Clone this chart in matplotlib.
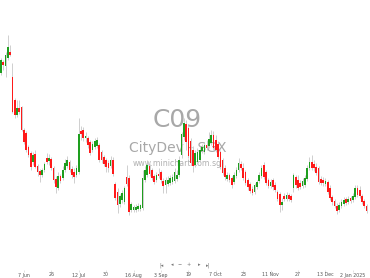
import matplotlib
matplotlib.use("Agg")
import matplotlib.pyplot as plt
import numpy as np
import pandas as pd

# ---- data ----
holidays = ["2024-06-17", "2024-08-09", "2024-10-31", "2024-12-25", "2025-01-01"]
start_date = "2024-05-24"
end_date = "2025-01-10"

opens = [5.92, 6.03, 5.99, 6.07, 6.13, 5.88, 5.65, 5.50, 5.57, 5.58,
         5.35, 5.32, 5.18, 5.12, 5.03, 5.11, 4.99, 4.94, 4.90, 4.95,
         5.07, 5.04, 5.06, 4.97, 4.86, 4.77, 4.89, 4.87, 4.95, 4.99,
         5.03, 4.96, 4.93, 4.90, 4.93, 5.34, 5.35, 5.27, 5.27, 5.23,
         5.15, 5.18, 5.19, 5.20, 5.13, 5.08, 5.05, 5.02, 4.99, 5.05,
         4.81, 4.73, 4.61, 4.65, 4.63, 4.88, 4.87, 4.55, 4.55, 4.55,
         4.56, 4.56, 4.57, 4.85, 4.90, 4.99, 4.95, 4.89, 4.85, 4.91,
         4.93, 4.84, 4.80, 4.81, 4.82, 4.83, 4.84, 4.86, 4.90, 5.10,
         5.28, 5.41, 5.37, 5.24, 5.15, 5.00, 5.03, 5.05, 5.14, 5.13,
         5.20, 5.19, 5.22, 5.30, 5.25, 5.21, 5.13, 5.05, 4.97, 4.86,
         4.90, 4.87, 4.83, 4.89, 4.95, 5.01, 4.97, 4.93, 4.85, 4.81,
         4.76, 4.73, 4.78, 4.84, 4.89, 5.00, 4.93, 4.85, 4.79, 4.85,
         4.80, 4.73, 4.71, 4.60, 4.69, 4.66, 4.70, 4.69, 4.77, 4.88,
         4.85, 4.82, 4.79, 4.80, 4.86, 4.97, 5.03, 5.01, 4.98, 4.97,
         4.86, 4.85, 4.81, 4.83, 4.77, 4.68, 4.64, 4.59, 4.55, 4.59,
         4.61, 4.66, 4.63, 4.67, 4.65, 4.68, 4.77, 4.75, 4.69, 4.64,
         4.59]
highs = [6.07, 6.05, 6.13, 6.30, 6.20, 6.02, 5.67, 5.65, 5.65, 5.59,
         5.37, 5.34, 5.20, 5.14, 5.13, 5.15, 5.01, 4.96, 4.97, 5.03,
         5.12, 5.11, 5.08, 4.99, 4.89, 4.93, 4.91, 4.99, 5.06, 5.09,
         5.05, 4.99, 4.97, 5.00, 5.47, 5.39, 5.38, 5.33, 5.29, 5.25,
         5.24, 5.27, 5.28, 5.22, 5.15, 5.10, 5.07, 5.05, 5.09, 5.08,
         4.83, 4.77, 4.71, 4.75, 4.79, 5.00, 4.90, 4.63, 4.60, 4.61,
         4.62, 4.61, 4.95, 4.99, 5.05, 5.01, 4.97, 4.91, 4.93, 4.97,
         4.95, 4.87, 4.88, 4.89, 4.90, 4.91, 4.97, 4.95, 5.09, 5.33,
         5.47, 5.45, 5.40, 5.27, 5.19, 5.15, 5.17, 5.19, 5.21, 5.23,
         5.25, 5.33, 5.35, 5.34, 5.30, 5.24, 5.15, 5.07, 5.00, 4.93,
         4.92, 4.89, 4.93, 4.98, 5.07, 5.04, 5.02, 4.95, 4.87, 4.83,
         4.79, 4.82, 4.85, 4.93, 5.00, 5.03, 4.95, 4.87, 4.86, 4.87,
         4.83, 4.75, 4.73, 4.67, 4.72, 4.73, 4.72, 4.71, 4.92, 4.90,
         4.90, 4.85, 4.87, 4.90, 5.00, 5.08, 5.10, 5.05, 5.02, 4.99,
         4.89, 4.88, 4.87, 4.85, 4.80, 4.70, 4.66, 4.62, 4.63, 4.66,
         4.68, 4.68, 4.69, 4.69, 4.72, 4.80, 4.80, 4.79, 4.71, 4.66,
         4.61]
lows = [5.90, 5.95, 5.88, 6.05, 6.09, 5.52, 5.47, 5.48, 5.51, 5.34,
        5.21, 5.13, 5.08, 4.95, 5.00, 4.97, 4.89, 4.83, 4.88, 4.93,
        5.01, 5.00, 4.95, 4.82, 4.72, 4.75, 4.82, 4.85, 4.93, 4.97,
        4.93, 4.87, 4.82, 4.88, 4.91, 5.25, 5.24, 5.23, 5.17, 5.10,
        5.13, 5.16, 5.17, 5.03, 5.02, 4.99, 4.93, 4.93, 4.97, 4.89,
        4.65, 4.52, 4.58, 4.62, 4.61, 4.79, 4.50, 4.53, 4.53, 4.53,
        4.54, 4.54, 4.55, 4.83, 4.88, 4.89, 4.85, 4.81, 4.83, 4.87,
        4.82, 4.72, 4.72, 4.79, 4.80, 4.81, 4.82, 4.84, 4.88, 5.07,
        5.25, 5.15, 5.07, 5.00, 4.93, 4.98, 5.01, 5.03, 5.12, 5.11,
        5.15, 5.17, 5.20, 5.15, 5.13, 5.06, 4.96, 4.90, 4.85, 4.84,
        4.83, 4.77, 4.81, 4.87, 4.93, 4.95, 4.85, 4.80, 4.75, 4.72,
        4.70, 4.71, 4.76, 4.82, 4.87, 4.86, 4.80, 4.77, 4.77, 4.75,
        4.73, 4.64, 4.53, 4.55, 4.64, 4.64, 4.64, 4.63, 4.73, 4.77,
        4.75, 4.76, 4.77, 4.78, 4.84, 4.95, 4.95, 4.94, 4.90, 4.81,
        4.80, 4.79, 4.79, 4.71, 4.65, 4.60, 4.57, 4.51, 4.53, 4.57,
        4.59, 4.60, 4.61, 4.62, 4.63, 4.66, 4.68, 4.67, 4.61, 4.57,
        4.52]
closes = [6.05, 6.00, 6.10, 6.18, 6.10, 5.53, 5.50, 5.57, 5.53, 5.35,
          5.23, 5.15, 5.10, 4.98, 5.10, 4.98, 4.93, 4.90, 4.95, 5.01,
          5.03, 5.07, 4.97, 4.85, 4.78, 4.89, 4.84, 4.95, 5.02, 5.05,
          4.95, 4.90, 4.88, 4.97, 5.31, 5.31, 5.27, 5.29, 5.20, 5.12,
          5.21, 5.24, 5.25, 5.05, 5.05, 5.01, 4.98, 4.97, 5.05, 4.91,
          4.67, 4.60, 4.69, 4.72, 4.77, 4.81, 4.53, 4.61, 4.58, 4.58,
          4.59, 4.60, 4.87, 4.95, 5.00, 4.91, 4.87, 4.83, 4.90, 4.89,
          4.85, 4.79, 4.85, 4.85, 4.87, 4.88, 4.93, 4.90, 5.05, 5.31,
          5.42, 5.23, 5.09, 5.02, 4.99, 5.12, 5.13, 5.15, 5.18, 5.20,
          5.17, 5.26, 5.30, 5.17, 5.15, 5.08, 4.98, 4.92, 4.88, 4.90,
          4.85, 4.80, 4.90, 4.95, 5.02, 4.97, 4.87, 4.82, 4.78, 4.74,
          4.72, 4.80, 4.83, 4.90, 4.97, 4.88, 4.82, 4.79, 4.83, 4.78,
          4.75, 4.66, 4.60, 4.63, 4.66, 4.70, 4.66, 4.65, 4.90, 4.80,
          4.77, 4.78, 4.84, 4.87, 4.97, 5.03, 4.97, 4.97, 4.92, 4.83,
          4.82, 4.82, 4.84, 4.73, 4.67, 4.63, 4.59, 4.54, 4.60, 4.63,
          4.65, 4.62, 4.66, 4.64, 4.69, 4.77, 4.70, 4.69, 4.63, 4.59,
          4.54]

tick_dates = ["2024-06-07", "2024-06-26", "2024-07-12", "2024-07-30", "2024-08-16",
              "2024-09-03", "2024-09-19", "2024-10-07", "2024-10-23", "2024-11-11",
              "2024-11-27", "2024-12-13", "2025-01-02"]
tick_labels = ["7 Jun", "26", "12 Jul", "30", "16 Aug", "3 Sep", "19", "7 Oct",
               "23", "11 Nov", "27", "13 Dec", "2 Jan 2025"]

title_code = "C09"
title_name = "CityDev - SGX"
site = "www.minichart.com.sg"
nav_symbols = ["|\u25C2", "\u25C2", "\u2212", "+", "\u25B8", "\u25B8|"]

# ---- build ----
dates = pd.bdate_range(start_date, end_date)
dates = dates[~dates.isin(pd.to_datetime(holidays))]
n = len(closes)
dates = dates[:n]
idx = np.arange(n)
o = np.array(opens); h = np.array(highs); l = np.array(lows); c = np.array(closes)
up = c >= o

fig = plt.figure(figsize=(3.70, 2.78), dpi=100)
ax = fig.add_axes([0, 8 / 278, 1, 270 / 278])
ax.set_xlim(-0.44, n + 0.5)
ax.set_ylim(3.95, 6.65)

# watermark
ax.text(0.48, 0.555, title_code, transform=ax.transAxes, ha="center", va="center",
        fontsize=18, color="#a8a8a8", zorder=0)
ax.text(0.48, 0.452, title_name, transform=ax.transAxes, ha="center", va="center",
        fontsize=10, color="#a8a8a8", zorder=0)
ax.text(0.48, 0.393, site, transform=ax.transAxes, ha="center", va="center",
        fontsize=5.6, color="#b0b0b0", zorder=0)

# wicks
ax.vlines(idx, l, h, color="#c8c8c8", linewidth=0.6, zorder=2)
# bodies
body = np.where(np.abs(c - o) < 0.005, 0.01, c - o)
ax.bar(idx[up], body[up], bottom=o[up], width=0.72, color="#1e9e1e",
       linewidth=0, zorder=3)
ax.bar(idx[~up], body[~up], bottom=o[~up], width=0.72, color="#ff1a1a",
       linewidth=0, zorder=3)

# ticks
tick_pos = [int(np.where(dates == pd.Timestamp(d))[0][0]) for d in tick_dates]
ax.set_xticks(tick_pos)
ax.set_xticklabels(tick_labels, fontsize=3.4, color="#555555")
ax.tick_params(axis="x", length=1.2, width=0.4, color="#cccccc", pad=0.6)
ax.set_yticks([])
for s in ax.spines.values():
    s.set_visible(False)

# navigation icons
nav_x = [162, 172, 180, 189, 199, 208]
for xs, sym in zip(nav_x, nav_symbols):
    ax.text(xs / 370, 5 / 270, sym, transform=ax.transAxes, ha="center",
            va="center", fontsize=3.6, color="#777777")

fig.savefig("out.png", dpi=100)
